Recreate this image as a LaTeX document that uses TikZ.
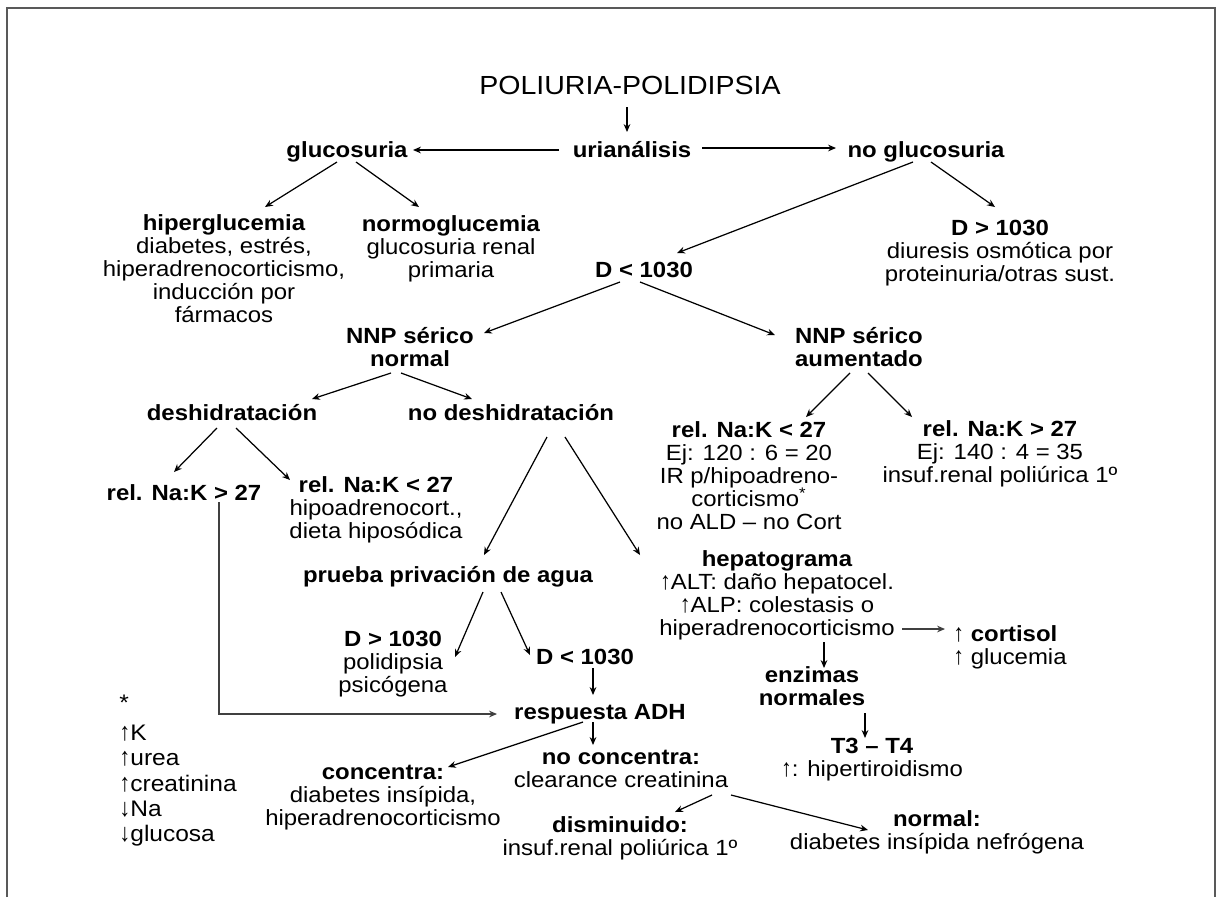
\documentclass[tikz,border=0pt]{standalone}
\usepackage{fontspec}
\usepackage{graphicx}
\setmainfont[FakeStretch=1.09]{Liberation Sans}
\usetikzlibrary{calc,arrows.meta}
\newcommand\bodysize{\fontsize{12.5}{13.1}\selectfont}
\newcommand\titlesize{\fontsize{14.9}{16}\selectfont}
\newcommand\topstrut{\rule{0pt}{11pt}}
\newcommand\botstrut{\rule[-3pt]{0pt}{0pt}}
\newcommand\uarr{\scalebox{0.9}[1.12]{\mdseries ↑}}
\newcommand\darr{\scalebox{0.9}[1.12]{\mdseries ↓}}
\begin{document}
\begin{tikzpicture}[x=0.02cm,y=-0.02cm,
  txt/.style={inner sep=0pt, align=center, font=\bodysize,
    execute at begin node=\topstrut, execute at end node=\botstrut},
  btxt/.style={txt, font=\bodysize\bfseries},
  arr/.style={-{Stealth[length=4.5pt,width=3.8pt]}, line width=0.7pt},
  frame/.style={line width=0.9pt, black!65}]
\useasboundingbox (0,0) rectangle (1223,897);
\draw[frame] (7,897) -- (7,8) -- (1215,8) -- (1215,897);

\node[txt, font=\titlesize] (title) at (630,87) {POLIURIA-POLIDIPSIA};
\node[btxt] (uri) at (632,150) {urianálisis};
\node[btxt] (gluc) at (347,150) {glucosuria};
\node[btxt] (nogluc) at (926,150) {no glucosuria};
\node[txt] (hiper) at (224,271) {\textbf{hiperglucemia}\\diabetes, estrés,\\hiperadrenocorticismo,\\inducción por\\fármacos};
\node[txt] (normo) at (451,249) {\textbf{normoglucemia}\\glucosuria renal\\primaria};
\node[txt] (dmayor) at (1000,253) {\textbf{D > 1030}\\diuresis osmótica por\\proteinuria/otras sust.};
\node[btxt] (dmenor) at (644,270) {D < 1030};
\node[btxt] (nnpn) at (410,350) {NNP sérico\\normal};
\node[btxt] (nnpa) at (859,350) {NNP sérico\\aumentado};
\node[btxt] (desh) at (232,413) {deshidratación};
\node[btxt] (nodesh) at (511,413) {no deshidratación};
\node[btxt] (nakL1) at (184,493) {rel. Na:K > 27};
\node[txt] (nakL2) at (376,510) {\textbf{rel. Na:K < 27}\\hipoadrenocort.,\\dieta hiposódica};
\node[txt] (nakR1) at (749,478) {\textbf{rel. Na:K < 27}\\Ej: 120 : 6 = 20\\IR p/hipoadreno-\\corticismo\textsuperscript{*}\\no ALD – no Cort};
\node[txt] (nakR2) at (1000,454) {\textbf{rel. Na:K > 27}\\Ej: 140 : 4 = 35\\insuf.renal poliúrica 1º};
\node[btxt] (prueba) at (448,575) {prueba privación de agua};
\node[txt] (hepato) at (777,596) {\textbf{hepatograma}\\\uarr ALT: daño hepatocel.\\\uarr ALP: colestasis o\\hiperadrenocorticismo};
\node[txt, align=left] (cort) at (1010,648) {\uarr{} \textbf{cortisol}\\\uarr{} glucemia};
\node[txt] (dgt) at (393,664) {\textbf{D > 1030}\\polidipsia\\psicógena};
\node[btxt] (dlt2) at (585,657) {D < 1030};
\node[btxt] (adh) at (600,712) {respuesta ADH};
\node[btxt] (enz) at (812,689) {enzimas\\normales};
\node[txt] (t3) at (872,760) {\textbf{T3 – T4}\\\uarr: hipertiroidismo};
\node[txt] (conc) at (383,798) {\textbf{concentra:}\\diabetes insípida,\\hiperadrenocorticismo};
\node[txt] (noconc) at (621,771) {\textbf{no concentra:}\\clearance creatinina};
\node[txt] (dism) at (620,839) {\textbf{disminuido:}\\insuf.renal poliúrica 1º};
\node[txt] (normal) at (937,833) {\textbf{normal:}\\diabetes insípida nefrógena};
\node[txt, align=left, anchor=west, font=\fontsize{12.8}{14.4}\selectfont] (legend) at (119,771) {*\\[0.1cm]\uarr K\\\uarr urea\\\uarr creatinina\\\darr Na\\\darr glucosa};

\draw[arr] ($(title)+(-3,20)$) -- ($(uri)+(-5,-18)$);
\draw[arr] ($(uri)+(-73,0)$) -- ($(gluc)+(66,0)$);
\draw[arr] ($(uri)+(70,-2)$) -- ($(nogluc)+(-90,-2)$);
\draw[arr] ($(gluc)+(-10,12)$) -- ($(hiper)+(41,-64)$);
\draw[arr] ($(gluc)+(9,12)$) -- ($(normo)+(-32,-42)$);
\draw[arr] ($(nogluc)+(-13,12)$) -- ($(dmenor)+(33,-17)$);
\draw[arr] ($(nogluc)+(5,12)$) -- ($(dmayor)+(-5,-46)$);
\draw[arr] ($(dmenor)+(-24,12)$) -- ($(nnpn)+(74,-17)$);
\draw[arr] ($(dmenor)+(-4,12)$) -- ($(nnpa)+(-84,-15)$);
\draw[arr] ($(nnpn)+(-19,23)$) -- ($(desh)+(80,-14)$);
\draw[arr] ($(nnpn)+(-9,23)$) -- ($(nodesh)+(-39,-14)$);
\draw[arr] ($(nnpa)+(-9,23)$) -- ($(nakR1)+(57,-61)$);
\draw[arr] ($(nnpa)+(9,23)$) -- ($(nakR2)+(-88,-37)$);
\draw[arr] ($(desh)+(-15,15)$) -- ($(nakL1)+(-10,-21)$);
\draw[arr] ($(desh)+(4,15)$) -- ($(nakL2)+(-86,-30)$);
\draw[arr] ($(nodesh)+(36,24)$) -- ($(prueba)+(36,-20)$);
\draw[arr] ($(nodesh)+(54,24)$) -- ($(hepato)+(-137,-41)$);
\draw[arr] ($(prueba)+(35,17)$) -- ($(dgt)+(62,-7)$);
\draw[arr] ($(prueba)+(53,17)$) -- ($(dlt2)+(-55,-2)$);
\draw[arr] ($(dlt2)+(8,11)$) -- ($(adh)+(-7,-17)$);
\draw[arr, black!75, line width=0.9pt] ($(nakL1)+(35,9)$) |- ($(adh)+(-103,2)$);
\draw[arr] ($(adh)+(-17,10)$) -- ($(conc)+(65,-31)$);
\draw[arr] ($(adh)+(-7,10)$) -- ($(noconc)+(-28,-26)$);
\draw[arr, black!75] ($(hepato)+(125,33)$) -- ($(cort)+(-65,-19)$);
\draw[arr] ($(hepato)+(47,46)$) -- ($(enz)+(12,-21)$);
\draw[arr] ($(enz)+(53,24)$) -- ($(t3)+(-7,-22)$);
\draw[arr] ($(noconc)+(91,24)$) -- ($(dism)+(55,-27)$);
\draw[arr] ($(noconc)+(110,24)$) -- ($(normal)+(-69,-3)$);
\end{tikzpicture}
\end{document}
